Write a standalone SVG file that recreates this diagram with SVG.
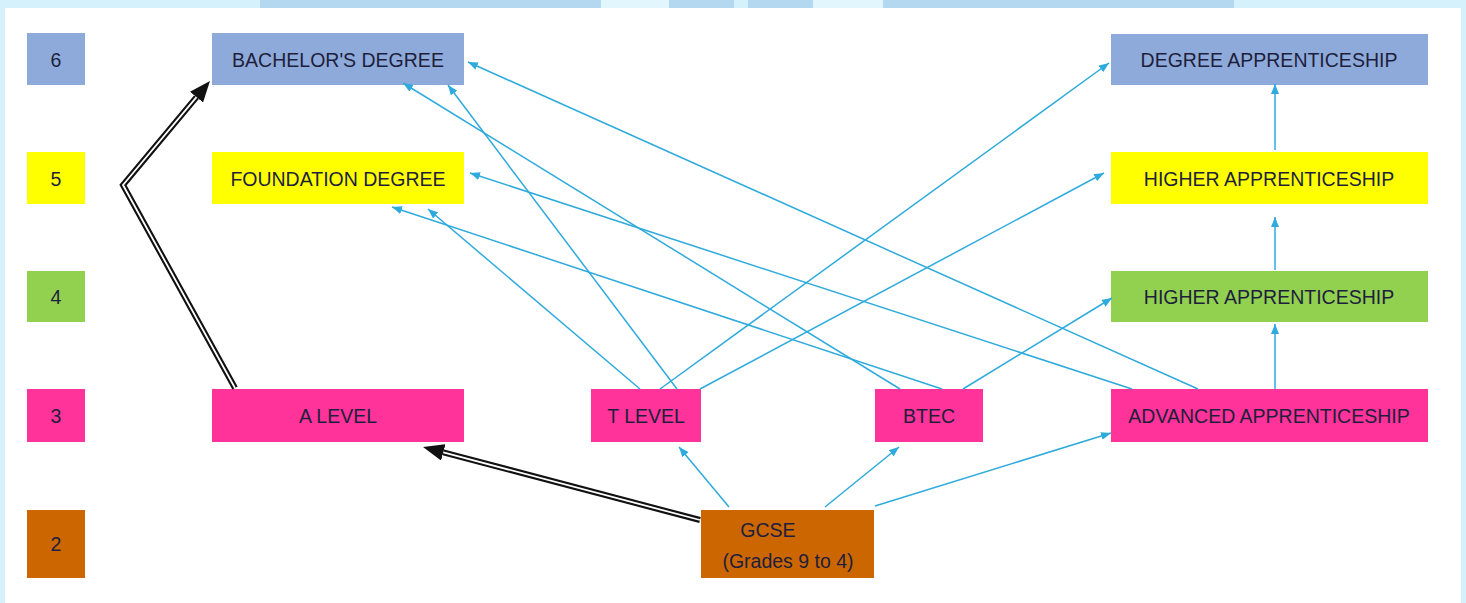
<svg xmlns="http://www.w3.org/2000/svg" width="1466" height="603" viewBox="0 0 1466 603">
<style>
.t{font-family:"Liberation Sans",Arial,sans-serif;font-size:19.5px;fill:#1e1f3c;text-anchor:middle}
.c{fill:none;stroke:#2eaadc;stroke-width:1.5}
.bo{fill:none;stroke:#111;stroke-width:6;stroke-linejoin:miter}
.bi{fill:none;stroke:#fff;stroke-width:1.8;stroke-linejoin:miter}
.l6{fill:#8eaadb}.l5{fill:#ffff00}.l4{fill:#92d050}.l3{fill:#ff3399}.l2{fill:#cc6600}
</style>
<defs>
<marker id="ca" markerUnits="userSpaceOnUse" viewBox="0 0 10 8" markerWidth="10" markerHeight="8" refX="10" refY="4" orient="auto"><path d="M0,0 L10,4 L0,8 z" fill="#2eaadc"/></marker>
<marker id="ba" markerUnits="userSpaceOnUse" viewBox="0 0 21 17" markerWidth="21" markerHeight="17" refX="0" refY="8.5" orient="auto"><path d="M0,0 L21,8.5 L0,17 z" fill="#111"/></marker>
</defs>
<rect width="1466" height="603" fill="#d5f1fc"/>
<rect x="260" y="0" width="341" height="8" fill="#b4d8ef"/>
<rect x="601" y="0" width="68" height="8" fill="#e2f6fd"/>
<rect x="669" y="0" width="65" height="8" fill="#b4d8ef"/>
<rect x="748" y="0" width="65" height="8" fill="#b4d8ef"/>
<rect x="813" y="0" width="70" height="8" fill="#e2f6fd"/>
<rect x="883" y="0" width="351" height="8" fill="#b4d8ef"/>
<rect x="5" y="8" width="1456" height="595" fill="#ffffff"/>

<g id="level-6"><rect class="l6" x="27" y="33" width="58" height="52"/><text class="t" x="56" y="67">6</text></g>
<g id="level-5"><rect class="l5" x="27" y="152" width="58" height="52"/><text class="t" x="56" y="186">5</text></g>
<g id="level-4"><rect class="l4" x="27" y="271" width="58" height="51"/><text class="t" x="56" y="304">4</text></g>
<g id="level-3"><rect class="l3" x="27" y="389" width="58" height="53"/><text class="t" x="56" y="423">3</text></g>
<g id="level-2"><rect class="l2" x="27" y="510" width="58" height="68"/><text class="t" x="56" y="551">2</text></g>

<g id="bachelors"><rect class="l6" x="212" y="33" width="252" height="52"/><text class="t" x="338" y="67">BACHELOR'S DEGREE</text></g>
<g id="foundation"><rect class="l5" x="212" y="152" width="252" height="52"/><text class="t" x="338" y="186">FOUNDATION DEGREE</text></g>
<g id="a-level"><rect class="l3" x="212" y="389" width="252" height="53"/><text class="t" x="338" y="423">A LEVEL</text></g>
<g id="t-level"><rect class="l3" x="591" y="389" width="110" height="53"/><text class="t" x="646" y="423">T LEVEL</text></g>
<g id="btec"><rect class="l3" x="875" y="389" width="108" height="53"/><text class="t" x="929" y="423">BTEC</text></g>
<g id="gcse"><rect class="l2" x="701" y="510" width="173" height="68"/><text class="t" x="768" y="537">GCSE</text><text class="t" x="788" y="568">(Grades 9 to 4)</text></g>
<g id="degree-app"><rect class="l6" x="1111" y="34" width="317" height="51"/><text class="t" x="1269" y="67">DEGREE APPRENTICESHIP</text></g>
<g id="higher-app-5"><rect class="l5" x="1111" y="152" width="317" height="52"/><text class="t" x="1269" y="186">HIGHER APPRENTICESHIP</text></g>
<g id="higher-app-4"><rect class="l4" x="1111" y="271" width="317" height="51"/><text class="t" x="1269" y="304">HIGHER APPRENTICESHIP</text></g>
<g id="advanced-app"><rect class="l3" x="1111" y="389" width="317" height="53"/><text class="t" x="1269" y="423">ADVANCED APPRENTICESHIP</text></g>

<g id="connectors">
<path class="c" marker-end="url(#ca)" d="M640,389 L428,209"/>
<path class="c" marker-end="url(#ca)" d="M660,389 L1109,63"/>
<path class="c" marker-end="url(#ca)" d="M677,389 L448,85"/>
<path class="c" marker-end="url(#ca)" d="M700,389 L1104,173"/>
<path class="c" marker-end="url(#ca)" d="M900,389 L403,83"/>
<path class="c" marker-end="url(#ca)" d="M942,389 L392,207"/>
<path class="c" marker-end="url(#ca)" d="M963,389 L1112,298"/>
<path class="c" marker-end="url(#ca)" d="M1132,389 L470,173"/>
<path class="c" marker-end="url(#ca)" d="M1198,389 L468,62"/>
<path class="c" marker-end="url(#ca)" d="M1275,389 L1275,324"/>
<path class="c" marker-end="url(#ca)" d="M1275,270 L1275,217"/>
<path class="c" marker-end="url(#ca)" d="M1275,150 L1275,84"/>
<path class="c" marker-end="url(#ca)" d="M729,507 L679,447"/>
<path class="c" marker-end="url(#ca)" d="M825,507 L899,447"/>
<path class="c" marker-end="url(#ca)" d="M875,506 L1111,433"/>
<path class="bo" marker-end="url(#ba)" d="M700,520 L443.3,452.4"/>
<path class="bi" d="M700,520 L443.3,452.4"/>
<path class="bo" marker-end="url(#ba)" d="M235,388 L123,185 L196.5,97.1"/>
<path class="bi" d="M235,388 L123,185 L196.5,97.1"/>
</g>
</svg>
